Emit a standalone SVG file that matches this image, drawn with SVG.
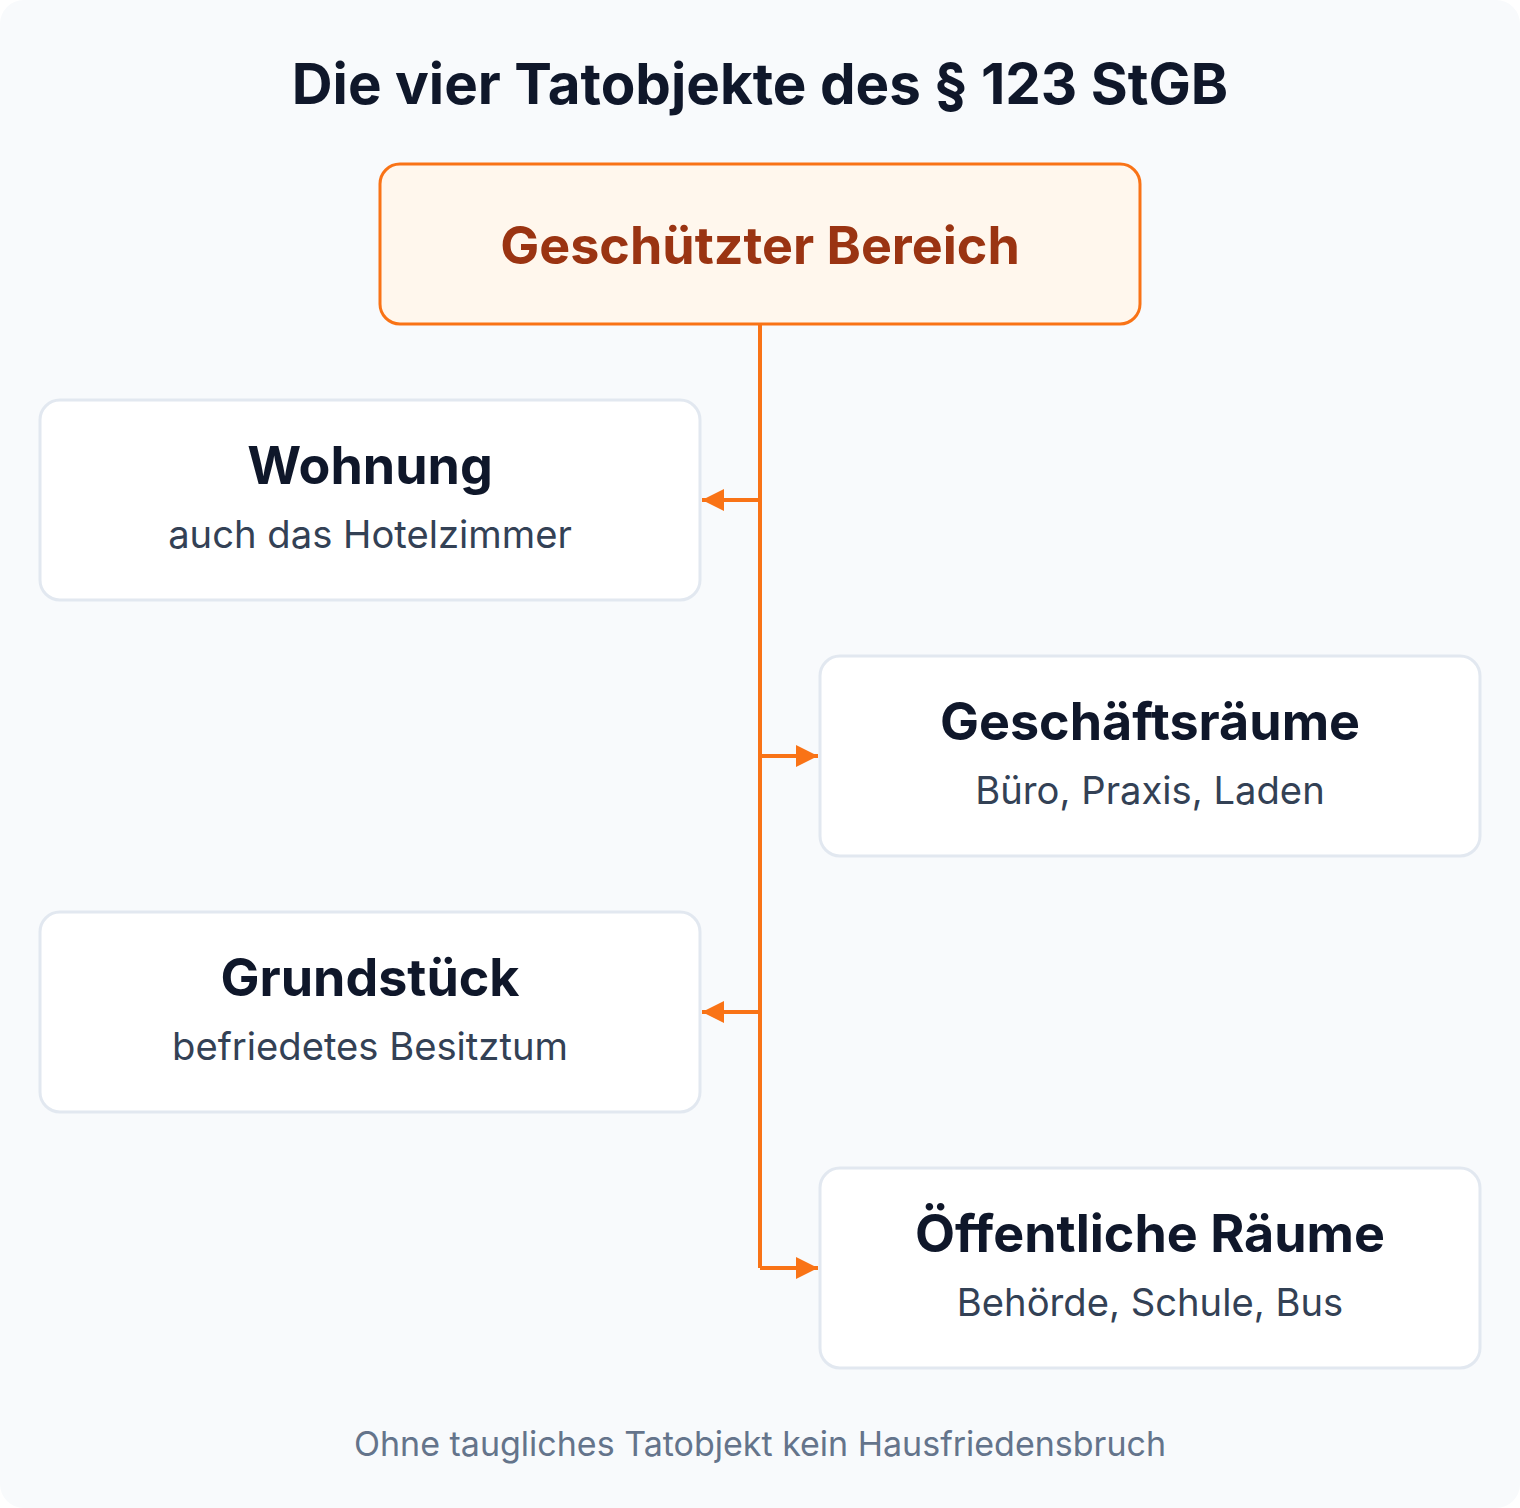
<svg xmlns="http://www.w3.org/2000/svg" width="1520" height="1508" viewBox="0 0 1520 1508">
<defs>
<style>
.t{font-family:Inter,"Liberation Sans",sans-serif;text-anchor:middle}
.h{font-weight:700;font-size:52px;fill:#0f172a}
.s{font-size:38.2px;fill:#334155}
.box{fill:#ffffff;stroke:#e2e8f0;stroke-width:3}
.con{stroke:#f97316;stroke-width:4;fill:none}
</style>
<marker id="ah" viewBox="0 0 10 10" refX="10" refY="5" markerWidth="22" markerHeight="22" markerUnits="userSpaceOnUse" orient="auto"><path d="M0,0 L10,5 L0,10 z" fill="#f97316"/></marker>
</defs>
<rect x="0" y="0" width="1520" height="1508" fill="#ffffff"/>
<rect x="0" y="0" width="1520" height="1508" rx="24" fill="#f8fafc"/>
<text class="t" x="760" y="104" style="font-size:56.5px;font-weight:700;fill:#0f172a">Die vier Tatobjekte des § 123 StGB</text>
<g id="connectors">
<path class="con" d="M760,324 L760,1268"/>
<path class="con" d="M760,500 L702,500" marker-end="url(#ah)"/>
<path class="con" d="M760,756 L818,756" marker-end="url(#ah)"/>
<path class="con" d="M760,1012 L702,1012" marker-end="url(#ah)"/>
<path class="con" d="M760,1268 L818,1268" marker-end="url(#ah)"/>
</g>
<g id="root">
<rect x="380" y="164" width="760" height="160" rx="20" fill="#fff7ed" stroke="#f97316" stroke-width="3"/>
<text class="t" x="760" y="264" style="font-size:52px;font-weight:700;fill:#9a3412">Geschützter Bereich</text>
</g>
<g id="wohnung">
<rect class="box" x="40" y="400" width="660" height="200" rx="20"/>
<text class="t h" x="370" y="484">Wohnung</text>
<text class="t s" x="370" y="548">auch das Hotelzimmer</text>
</g>
<g id="geschaeftsraeume">
<rect class="box" x="820" y="656" width="660" height="200" rx="20"/>
<text class="t h" x="1150" y="740">Geschäftsräume</text>
<text class="t s" x="1150" y="804">Büro, Praxis, Laden</text>
</g>
<g id="grundstueck">
<rect class="box" x="40" y="912" width="660" height="200" rx="20"/>
<text class="t h" x="370" y="996">Grundstück</text>
<text class="t s" x="370" y="1060">befriedetes Besitztum</text>
</g>
<g id="oeffentliche">
<rect class="box" x="820" y="1168" width="660" height="200" rx="20"/>
<text class="t h" x="1150" y="1252">Öffentliche Räume</text>
<text class="t s" x="1150" y="1316">Behörde, Schule, Bus</text>
</g>
<text class="t" x="760" y="1456" style="font-size:34px;fill:#64748b">Ohne taugliches Tatobjekt kein Hausfriedensbruch</text>
</svg>
